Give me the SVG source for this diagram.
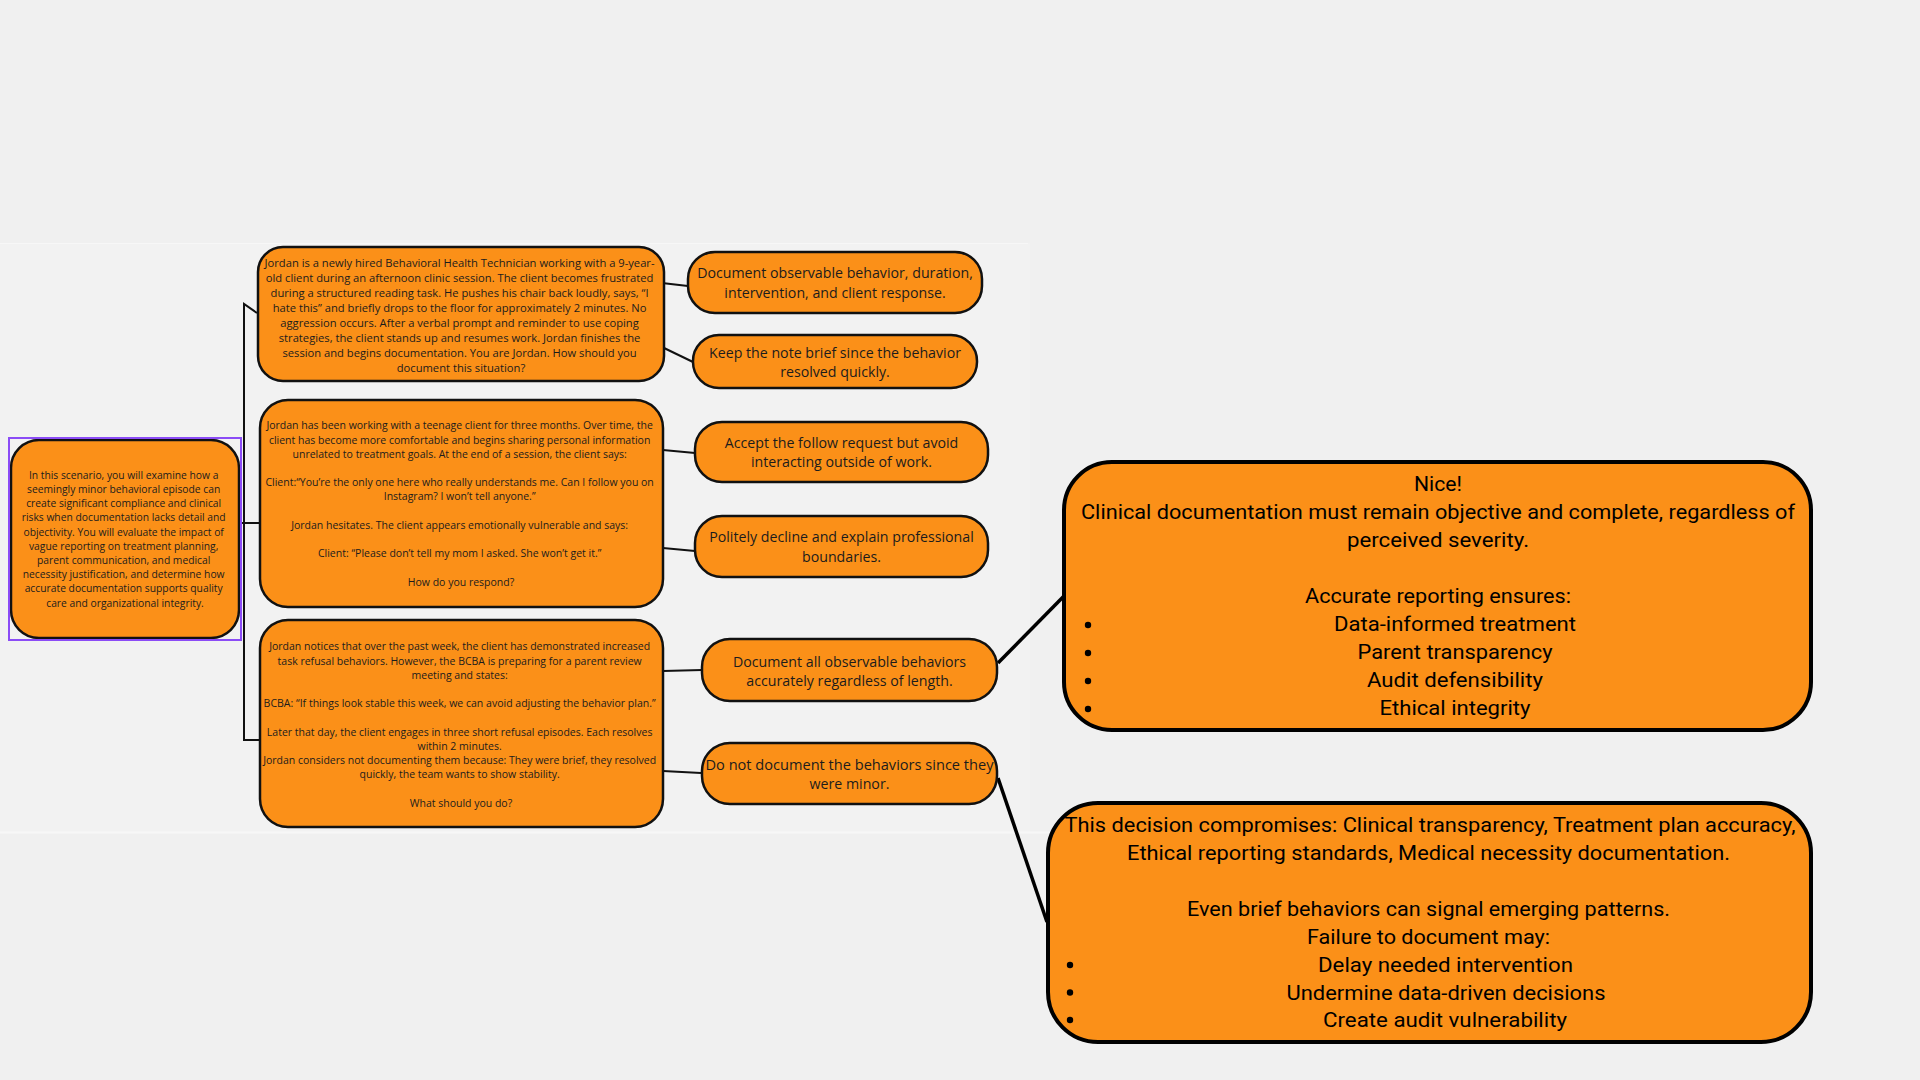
<svg xmlns="http://www.w3.org/2000/svg" width="1920" height="1080" viewBox="0 0 1920 1080">
<style>
.node{fill:#fb9018;stroke:#111;stroke-width:2.5}
.fb{fill:#fb9018;stroke:#000;stroke-width:4}
.t{font-family:"Open Sans","Noto Sans",sans-serif;fill:#1c1c1c;text-anchor:middle}
.s1{font-size:11.2px}
.s0{font-size:10.3px}
.s2{font-size:10.5px}
.a{font-family:"Open Sans","Noto Sans",sans-serif;font-size:14.2px;fill:#1c1c1c;text-anchor:middle}
.f{font-family:Roboto,"Liberation Sans",sans-serif;font-size:21px;fill:#000;text-anchor:middle}
.c{fill:none;stroke:#111;stroke-width:2}
.cb{fill:none;stroke:#000;stroke-width:3.5}
</style>
<rect width="1920" height="1080" fill="#f0f0f0"/>
<rect x="0" y="243" width="1030" height="589" fill="#f2f2f2"/>
<line x1="0" y1="243.5" x2="1028" y2="243.5" stroke="#f7f7f7" stroke-width="1"/>
<line x1="0" y1="832.5" x2="1062" y2="832.5" stroke="#f7f7f7" stroke-width="2"/>

<g id="connectors">
<path class="c" d="M257,313 L244,304 L244,740 L260,740"/>
<path class="c" d="M240,523 L260,523"/>
<path class="c" d="M662,283 L688,286"/>
<path class="c" d="M662,347 L693,362"/>
<path class="c" d="M663,450 L695,453"/>
<path class="c" d="M663,548 L695,551"/>
<path class="c" d="M663,671 L702,670"/>
<path class="c" d="M663,771 L701,773"/>
<path class="cb" d="M998,663 L1064,596"/>
<path class="cb" d="M998,778 L1047,922"/>
</g>

<g id="intro">
<rect class="node" x="11" y="440" width="228" height="198" rx="28"/>
<rect x="9" y="438" width="232" height="202" fill="none" stroke="#8b4cf6" stroke-width="2"/>
<text class="t s0">
<tspan x="125" y="478.7">In this scenario, you will examine how a</tspan>
<tspan x="125" y="492.9">seemingly minor behavioral episode can</tspan>
<tspan x="125" y="507.1">create significant compliance and clinical</tspan>
<tspan x="125" y="521.3">risks when documentation lacks detail and</tspan>
<tspan x="125" y="535.5">objectivity. You will evaluate the impact of</tspan>
<tspan x="125" y="549.7">vague reporting on treatment planning,</tspan>
<tspan x="125" y="563.9">parent communication, and medical</tspan>
<tspan x="125" y="578.1">necessity justification, and determine how</tspan>
<tspan x="125" y="592.3">accurate documentation supports quality</tspan>
<tspan x="125" y="606.5">care and organizational integrity.</tspan>
</text>
</g>

<g id="scenario1">
<rect class="node" x="258" y="247" width="406" height="134" rx="25"/>
<text class="t s1">
<tspan x="461" y="266.7">Jordan is a newly hired Behavioral Health Technician working with a 9-year-</tspan>
<tspan x="461" y="281.7">old client during an afternoon clinic session. The client becomes frustrated</tspan>
<tspan x="461" y="296.7">during a structured reading task. He pushes his chair back loudly, says, “I</tspan>
<tspan x="461" y="311.7">hate this” and briefly drops to the floor for approximately 2 minutes. No</tspan>
<tspan x="461" y="326.7">aggression occurs. After a verbal prompt and reminder to use coping</tspan>
<tspan x="461" y="341.7">strategies, the client stands up and resumes work. Jordan finishes the</tspan>
<tspan x="461" y="356.7">session and begins documentation. You are Jordan. How should you</tspan>
<tspan x="461" y="371.7">document this situation?</tspan>
</text>
</g>

<g id="scenario2">
<rect class="node" x="260" y="400" width="403" height="207" rx="28"/>
<text class="t s2">
<tspan x="461" y="429.4">Jordan has been working with a teenage client for three months. Over time, the</tspan>
<tspan x="461" y="443.6">client has become more comfortable and begins sharing personal information</tspan>
<tspan x="461" y="457.8">unrelated to treatment goals. At the end of a session, the client says:</tspan>
<tspan x="461" y="486.2">Client:“You’re the only one here who really understands me. Can I follow you on</tspan>
<tspan x="461" y="500.4">Instagram? I won’t tell anyone.”</tspan>
<tspan x="461" y="528.8">Jordan hesitates. The client appears emotionally vulnerable and says:</tspan>
<tspan x="461" y="557.2">Client: “Please don’t tell my mom I asked. She won’t get it.”</tspan>
<tspan x="461" y="585.6">How do you respond?</tspan>
</text>
</g>

<g id="scenario3">
<rect class="node" x="260" y="620" width="403" height="207" rx="28"/>
<text class="t s2">
<tspan x="461" y="650.4">Jordan notices that over the past week, the client has demonstrated increased</tspan>
<tspan x="461" y="664.6">task refusal behaviors. However, the BCBA is preparing for a parent review</tspan>
<tspan x="461" y="678.8">meeting and states:</tspan>
<tspan x="461" y="707.2" textLength="392" lengthAdjust="spacingAndGlyphs">BCBA: “If things look stable this week, we can avoid adjusting the behavior plan.”</tspan>
<tspan x="461" y="735.6">Later that day, the client engages in three short refusal episodes. Each resolves</tspan>
<tspan x="461" y="749.8">within 2 minutes.</tspan>
<tspan x="461" y="764">Jordan considers not documenting them because: They were brief, they resolved</tspan>
<tspan x="461" y="778.2">quickly, the team wants to show stability.</tspan>
<tspan x="461" y="806.6">What should you do?</tspan>
</text>
</g>

<g id="answer1">
<rect class="node" x="688" y="252" width="294" height="61" rx="27"/>
<text class="a"><tspan x="835" y="278.3">Document observable behavior, duration,</tspan><tspan x="835" y="298.3">intervention, and client response.</tspan></text>
</g>
<g id="answer2">
<rect class="node" x="693" y="335" width="284" height="53" rx="26"/>
<text class="a"><tspan x="835" y="357.8">Keep the note brief since the behavior</tspan><tspan x="835" y="376.8">resolved quickly.</tspan></text>
</g>
<g id="answer3">
<rect class="node" x="695" y="422" width="293" height="60" rx="27"/>
<text class="a"><tspan x="841.5" y="447.8">Accept the follow request but avoid</tspan><tspan x="841.5" y="466.8">interacting outside of work.</tspan></text>
</g>
<g id="answer4">
<rect class="node" x="695" y="516" width="293" height="61" rx="27"/>
<text class="a"><tspan x="841.5" y="542.3">Politely decline and explain professional</tspan><tspan x="841.5" y="561.8">boundaries.</tspan></text>
</g>
<g id="answer5">
<rect class="node" x="702" y="639" width="295" height="62" rx="28"/>
<text class="a"><tspan x="849.5" y="666.8">Document all observable behaviors</tspan><tspan x="849.5" y="685.8">accurately regardless of length.</tspan></text>
</g>
<g id="answer6">
<rect class="node" x="702" y="743" width="295" height="61" rx="28"/>
<text class="a"><tspan x="849.5" y="770.3" textLength="288" lengthAdjust="spacingAndGlyphs">Do not document the behaviors since they</tspan><tspan x="849.5" y="789.3">were minor.</tspan></text>
</g>

<g id="feedback-correct">
<rect class="fb" x="1064" y="462" width="747" height="268" rx="48"/>
<text class="f" x="1438" y="491" textLength="48" lengthAdjust="spacingAndGlyphs">Nice!</text>
<text class="f" x="1438" y="519" textLength="714" lengthAdjust="spacingAndGlyphs">Clinical documentation must remain objective and complete, regardless of</text>
<text class="f" x="1438" y="547" textLength="182" lengthAdjust="spacingAndGlyphs">perceived severity.</text>
<text class="f" x="1438" y="603" textLength="266" lengthAdjust="spacingAndGlyphs">Accurate reporting ensures:</text>
<text class="f" x="1455" y="631" textLength="242" lengthAdjust="spacingAndGlyphs">Data-informed treatment</text>
<text class="f" x="1455" y="659" textLength="195" lengthAdjust="spacingAndGlyphs">Parent transparency</text>
<text class="f" x="1455" y="687" textLength="176" lengthAdjust="spacingAndGlyphs">Audit defensibility</text>
<text class="f" x="1455" y="715" textLength="151" lengthAdjust="spacingAndGlyphs">Ethical integrity</text>
<g fill="#000"><circle cx="1088" cy="625" r="3.2"/><circle cx="1088" cy="653" r="3.2"/><circle cx="1088" cy="681" r="3.2"/><circle cx="1088" cy="709" r="3.2"/></g>
</g>

<g id="feedback-incorrect">
<rect class="fb" x="1048" y="803" width="763" height="239" rx="50"/>
<text class="f" x="1430" y="832" textLength="731" lengthAdjust="spacingAndGlyphs">This decision compromises: Clinical transparency, Treatment plan accuracy,</text>
<text class="f" x="1428.5" y="860" textLength="603" lengthAdjust="spacingAndGlyphs">Ethical reporting standards, Medical necessity documentation.</text>
<text class="f" x="1428.5" y="916" textLength="483" lengthAdjust="spacingAndGlyphs">Even brief behaviors can signal emerging patterns.</text>
<text class="f" x="1428.5" y="944" textLength="243" lengthAdjust="spacingAndGlyphs">Failure to document may:</text>
<text class="f" x="1445.5" y="972" textLength="255" lengthAdjust="spacingAndGlyphs">Delay needed intervention</text>
<text class="f" x="1446" y="999.5" textLength="319" lengthAdjust="spacingAndGlyphs">Undermine data-driven decisions</text>
<text class="f" x="1445" y="1027" textLength="244" lengthAdjust="spacingAndGlyphs">Create audit vulnerability</text>
<g fill="#000"><circle cx="1070" cy="965" r="3.2"/><circle cx="1070" cy="992.5" r="3.2"/><circle cx="1070" cy="1020" r="3.2"/></g>
</g>
</svg>
